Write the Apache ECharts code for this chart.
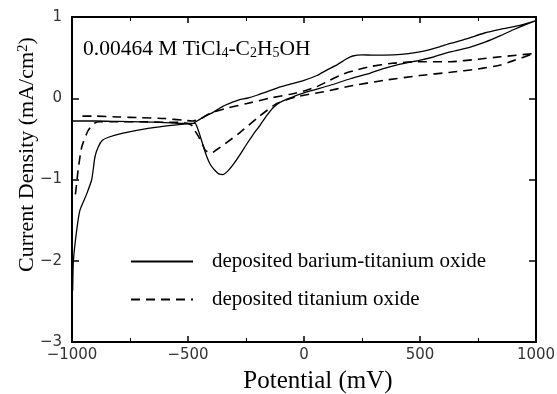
<!DOCTYPE html>
<html>
<head>
<meta charset="utf-8">
<script src="https://cdn.jsdelivr.net/npm/echarts@6/dist/echarts.min.js"></script>
<style>
  html, body { margin: 0; padding: 0; background: #fff; }
  #main { width: 557px; height: 394px; }
</style>
</head>
<body>
<div id="main"></div>
<script>
var serif = 'Liberation Serif';
var seriesNames = ['deposited barium-titanium oxide', 'deposited titanium oxide'];

// barium-titanium oxide (solid) : forward scan then return scan
var baTiX = [-1000, -950, -900, -800, -700, -600, -520, -480, -450, -420, -390, -350, -318, -280, -246, -200, -150, -102, -50, 0, 56, 100, 142, 180, 210, 250, 300, 386, 450, 516, 580, 631, 700, 775, 850, 920, 995,
             950, 900, 847, 780, 717, 631, 560, 502, 415, 350, 286, 200, 113, 27, -16, -45, -73, -102, -131, -160, -189, -220, -246, -275, -304, -330, -350, -365, -376, -390, -405, -420, -433, -447, -460, -470,
             -560, -672, -780, -843, -870, -887, -901, -915, -937, -966, -980, -994, -997];
var baTiY = [-0.28, -0.28, -0.28, -0.285, -0.29, -0.30, -0.31, -0.31, -0.26, -0.21, -0.17, -0.10, -0.06, -0.02, 0.0, 0.04, 0.09, 0.14, 0.18, 0.22, 0.28, 0.35, 0.41, 0.48, 0.52, 0.535, 0.53, 0.535, 0.55, 0.58, 0.63, 0.675, 0.73, 0.80, 0.85, 0.89, 0.95,
             0.90, 0.84, 0.77, 0.69, 0.63, 0.57, 0.51, 0.47, 0.42, 0.37, 0.31, 0.24, 0.16, 0.09, 0.05, 0.02, -0.01, -0.05, -0.11, -0.21, -0.33, -0.45, -0.56, -0.69, -0.81, -0.90, -0.94, -0.935, -0.91, -0.87, -0.81, -0.71, -0.60, -0.47, -0.36, -0.31,
             -0.33, -0.37, -0.43, -0.48, -0.52, -0.60, -0.72, -1.0, -1.18, -1.38, -1.63, -2.0, -2.37];

// titanium oxide (dashed)
var tiX = [-955, -900, -800, -700, -600, -520, -480, -450, -420, -390, -330, -246, -150, -59, 0, 53, 110, 171, 230, 286, 380, 487, 631, 750, 847, 990,
           900, 847, 750, 631, 500, 343, 200, 85, -30, -117, -200, -275, -340, -380, -396, -415, -426, -440, -455, -470, -485,
           -520, -600, -700, -800, -880, -905, -931, -958, -974, -980, -988];
var tiY = [-0.22, -0.22, -0.23, -0.24, -0.25, -0.27, -0.28, -0.26, -0.21, -0.17, -0.12, -0.065, 0.0, 0.05, 0.09, 0.14, 0.22, 0.30, 0.35, 0.39, 0.43, 0.45, 0.45, 0.48, 0.51, 0.55,
           0.46, 0.41, 0.36, 0.32, 0.28, 0.22, 0.15, 0.08, 0.02, -0.065, -0.24, -0.42, -0.56, -0.64, -0.67, -0.66, -0.64, -0.55, -0.47, -0.40, -0.33,
           -0.30, -0.295, -0.29, -0.29, -0.29, -0.31, -0.40, -0.60, -0.89, -1.05, -1.25];

var xTicks = { min: -1000, max: 1000, interval: 500 };
var yTicks = { min: -3, max: 1, interval: 1 };

function pairs(xs, ys) {
  var out = [];
  for (var i = 0; i < xs.length; i++) out.push([xs[i], ys[i]]);
  return out;
}

function minusLabel(v) {
  return String(v).replace('-', '\u2212');
}

var chart = echarts.init(document.getElementById('main'));

var axisLine = { show: true, onZero: false, lineStyle: { color: '#000', width: 2 } };

option = {
  backgroundColor: '#fff',
  animation: false,
  title: {
    text: '0.00464 M TiCl{s|4}-C{s|2}H{s|5}OH',
    left: 83,
    top: 38,
    padding: 0,
    textStyle: {
      fontFamily: serif, fontSize: 21.5, fontWeight: 'normal', color: '#000', lineHeight: 22,
      rich: {
        s: { fontFamily: serif, fontSize: 14, color: '#000', verticalAlign: 'bottom', lineHeight: 12 }
      }
    }
  },
  legend: {
    orient: 'vertical',
    left: 130,
    top: 251,
    padding: 0,
    itemWidth: 62,
    itemHeight: 14,
    itemGap: 17,
    itemStyle: { opacity: 0 },
    textStyle: { fontFamily: serif, fontSize: 21, color: '#000', padding: [0, 0, 0, 14] },
    data: seriesNames
  },
  grid: { left: 72, right: 21, top: 17, bottom: 52, containLabel: false, outerBoundsMode: 'none' },
  xAxis: [
    {
      type: 'value', position: 'bottom', min: xTicks.min, max: xTicks.max, interval: xTicks.interval,
      name: 'Potential (mV)', nameLocation: 'middle', nameGap: 27, nameMoveOverlap: false,
      nameTextStyle: { fontFamily: serif, fontSize: 25, color: '#000', padding: [0, 0, 0, 28] },
      axisLine: axisLine,
      axisTick: { inside: true, length: 6, lineStyle: { color: '#000', width: 1.5 } },
      minorTick: { show: true, splitNumber: 2, length: 4, lineStyle: { color: '#000', width: 1 } },
      axisLabel: { fontFamily: 'DejaVu Sans', fontSize: 15, color: '#333', margin: 6, formatter: minusLabel },
      splitLine: { show: false }
    },
    {
      type: 'value', position: 'top', min: xTicks.min, max: xTicks.max, interval: xTicks.interval,
      axisLine: axisLine,
      axisTick: { inside: true, length: 6, lineStyle: { color: '#000', width: 1.5 } },
      minorTick: { show: true, splitNumber: 2, length: 4, lineStyle: { color: '#000', width: 1 } },
      axisLabel: { show: false },
      splitLine: { show: false }
    }
  ],
  yAxis: [
    {
      type: 'value', position: 'left', min: yTicks.min, max: yTicks.max, interval: yTicks.interval,
      name: 'Current Density (mA/cm{p|2})', nameLocation: 'middle', nameGap: 34, nameMoveOverlap: false,
      nameTextStyle: {
        fontFamily: serif, fontSize: 22, color: '#000', padding: [0, 0, 0, 50],
        rich: { p: { fontFamily: serif, fontSize: 15, color: '#000', verticalAlign: 'top', lineHeight: 14 } }
      },
      axisLine: axisLine,
      axisTick: { inside: true, length: 7, lineStyle: { color: '#000', width: 1.5 } },
      axisLabel: { fontFamily: 'DejaVu Sans', fontSize: 15, color: '#333', margin: 10, formatter: minusLabel },
      splitLine: { show: false }
    },
    {
      type: 'value', position: 'right', min: yTicks.min, max: yTicks.max, interval: yTicks.interval,
      axisLine: axisLine,
      axisTick: { inside: true, length: 7, lineStyle: { color: '#000', width: 1.5 } },
      axisLabel: { show: false },
      splitLine: { show: false }
    }
  ],
  series: [
    {
      name: seriesNames[0],
      type: 'line',
      xAxisIndex: 0, yAxisIndex: 0,
      symbol: 'none',
      smooth: 0.2,
      lineStyle: { color: '#000', width: 1.3, type: 'solid' },
      itemStyle: { color: '#000' },
      data: pairs(baTiX, baTiY)
    },
    {
      name: seriesNames[1],
      type: 'line',
      xAxisIndex: 0, yAxisIndex: 0,
      symbol: 'none',
      smooth: 0.2,
      lineStyle: { color: '#000', width: 1.6, type: [9, 6] },
      itemStyle: { color: '#000' },
      data: pairs(tiX, tiY)
    }
  ]
};

chart.setOption(option);
window.addEventListener('resize', function () {
  chart.resize();
});
</script>
</body>
</html>
